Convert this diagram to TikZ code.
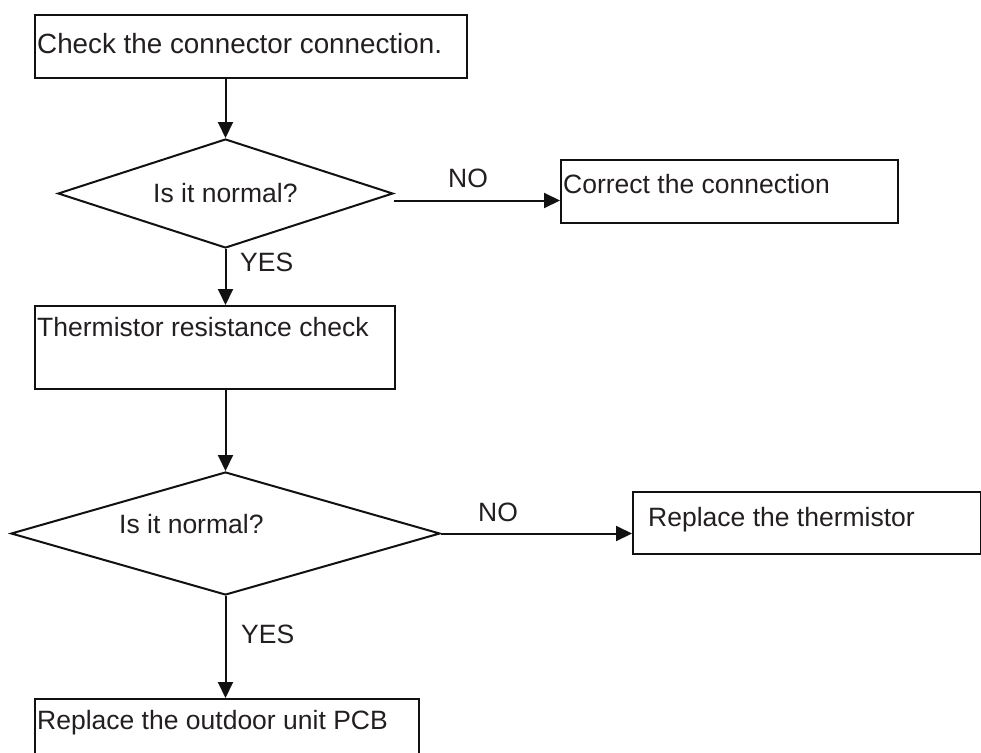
\documentclass[tikz,border=0pt]{standalone}
\usepackage{fontspec}
\setmainfont{Liberation Sans}
\usetikzlibrary{shapes.geometric,arrows.meta}
\definecolor{linec}{HTML}{111111}
\definecolor{txtc}{HTML}{231F20}
\begin{document}
\begin{tikzpicture}[x=1pt,y=-1pt,
  lbl/.style={anchor=base west,inner sep=0pt,text=txtc,font=\fontsize{26.5}{30}\selectfont},
  stepbox/.style={draw=linec,line width=2pt,rectangle,inner sep=0pt,anchor=north west},
  decision/.style={draw=linec,line width=2pt,diamond,inner sep=0pt},
  arr/.style={draw=linec,line width=2pt,-{Triangle[length=16pt,width=15pt]}}]
\useasboundingbox (0,0) rectangle (981,752);
\fill[white] (0,0) rectangle (981,752);
\clip (0,0) rectangle (981,752);

% boxes
\node[stepbox,minimum width=432pt,minimum height=63pt] (b1) at (34,14) {};
\node[stepbox,minimum width=337pt,minimum height=63pt] (b2) at (560,159) {};
\node[stepbox,minimum width=360pt,minimum height=83pt] (b3) at (34,305) {};
\node[stepbox,minimum width=348pt,minimum height=62pt] (b4) at (632,491) {};
\node[stepbox,minimum width=384pt,minimum height=90pt] (b5) at (34,698) {};

% decisions
\node[decision,minimum width=335pt,minimum height=109pt] (d1) at (225.5,193.5) {};
\node[decision,minimum width=429pt,minimum height=123pt] (d2) at (225.5,533.5) {};

% texts
\node[lbl,font=\fontsize{27.8}{30}\selectfont] (t1) at (37,53) {Check the connector connection.};
\node[lbl] (t2) at (563,193) {Correct the connection};
\node[lbl] (t3) at (37,336) {Thermistor resistance check};
\node[lbl] (t4) at (648,526) {Replace the thermistor};
\node[lbl] (t5) at (37,729) {Replace the outdoor unit PCB};
\node[lbl] (q1) at (153,202) {Is it normal?};
\node[lbl] (q2) at (119,533) {Is it normal?};
\node[lbl] (no1) at (448,187) {NO};
\node[lbl] (no2) at (478,521) {NO};
\node[lbl] (yes1) at (240,271) {YES};
\node[lbl] (yes2) at (241,643) {YES};

% connectors
\draw[arr] (d1.north |- b1.south) -- (d1.north);
\coordinate (n1) at ([yshift=-7pt]d1.east);
\draw[arr] (n1) -- (n1 -| b2.west);
\draw[arr] (d1.south) -- (d1.south |- b3.north);
\draw[arr] (d2.north |- b3.south) -- (d2.north);
\draw[arr] (d2.east) -- (d2.east -| b4.west);
\draw[arr] (d2.south) -- (d2.south |- b5.north);
\end{tikzpicture}
\end{document}
